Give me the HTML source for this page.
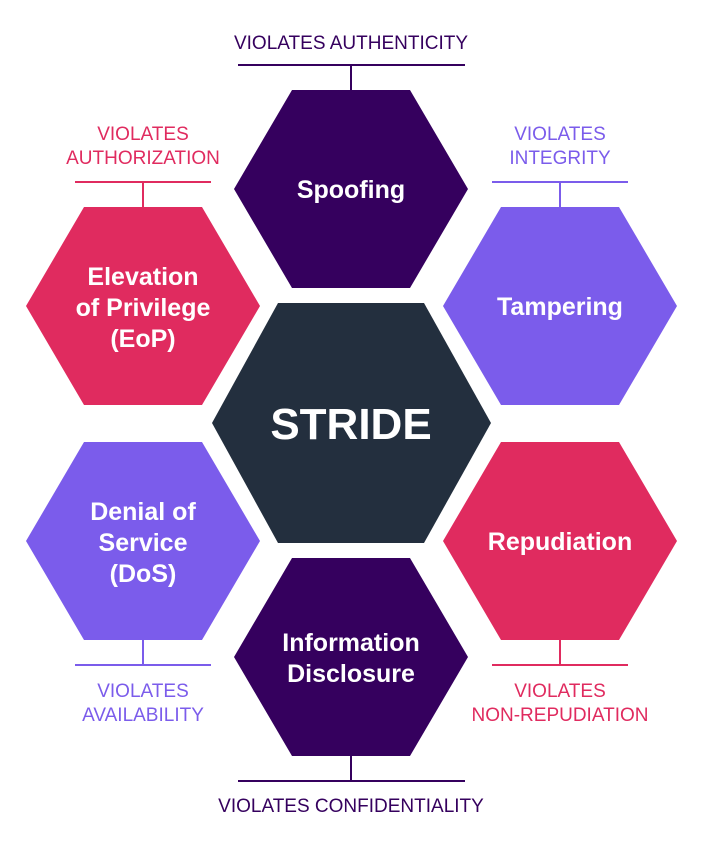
<!DOCTYPE html>
<html><head><meta charset="utf-8"><style>
body{margin:0;background:#fff}
svg{display:block}
text{font-family:"Liberation Sans",sans-serif}
.b{font-weight:bold;fill:#fff;font-size:25px;text-anchor:middle}
.l{font-size:19px;text-anchor:middle}
</style></head><body>
<svg width="703" height="847" viewBox="0 0 703 847">
<defs>
<polygon id="h" points="-117,0 -59,-99 59,-99 117,0 59,99 -59,99"/>
</defs>
<g stroke-width="2" fill="none">
<path d="M238 65H465M351 65V90" stroke="#35005e"/>
<path d="M75 182H211M143 182V207" stroke="#e02b5f"/>
<path d="M492 182H628M560 182V207" stroke="#7b5ceb"/>
<path d="M75 665H211M143 640V665" stroke="#7b5ceb"/>
<path d="M492 665H628M560 640V665" stroke="#e02b5f"/>
<path d="M238 781H465M351 756V781" stroke="#35005e"/>
</g>
<use href="#h" x="351" y="189" fill="#35005e"/>
<use href="#h" x="560" y="306" fill="#7b5ceb"/>
<use href="#h" x="143" y="306" fill="#e02b5f"/>
<use href="#h" x="143" y="541" fill="#7b5ceb"/>
<use href="#h" x="560" y="541" fill="#e02b5f"/>
<use href="#h" x="351" y="657" fill="#35005e"/>
<polygon points="212,423 278,303 424,303 491,423 424,543 278,543" fill="#232f3e"/>
<text x="351" y="439" class="b" style="font-size:44px">STRIDE</text>
<text x="351" y="198" class="b">Spoofing</text>
<text x="560" y="315" class="b">Tampering</text>
<text x="560" y="550" class="b">Repudiation</text>
<text x="143" y="285" class="b">Elevation</text>
<text x="143" y="316" class="b">of Privilege</text>
<text x="143" y="347" class="b">(EoP)</text>
<text x="143" y="520" class="b">Denial of</text>
<text x="143" y="551" class="b">Service</text>
<text x="143" y="582" class="b">(DoS)</text>
<text x="351" y="651" class="b">Information</text>
<text x="351" y="682" class="b">Disclosure</text>
<text x="351" y="49" class="l" fill="#35005e">VIOLATES AUTHENTICITY</text>
<text x="143" y="140" class="l" fill="#e02b5f">VIOLATES</text>
<text x="143" y="164" class="l" fill="#e02b5f">AUTHORIZATION</text>
<text x="560" y="140" class="l" fill="#7b5ceb">VIOLATES</text>
<text x="560" y="164" class="l" fill="#7b5ceb">INTEGRITY</text>
<text x="143" y="697" class="l" fill="#7b5ceb">VIOLATES</text>
<text x="143" y="721" class="l" fill="#7b5ceb">AVAILABILITY</text>
<text x="560" y="697" class="l" fill="#e02b5f">VIOLATES</text>
<text x="560" y="721" class="l" fill="#e02b5f">NON-REPUDIATION</text>
<text x="351" y="812" class="l" fill="#35005e">VIOLATES CONFIDENTIALITY</text>
</svg>
</body></html>
